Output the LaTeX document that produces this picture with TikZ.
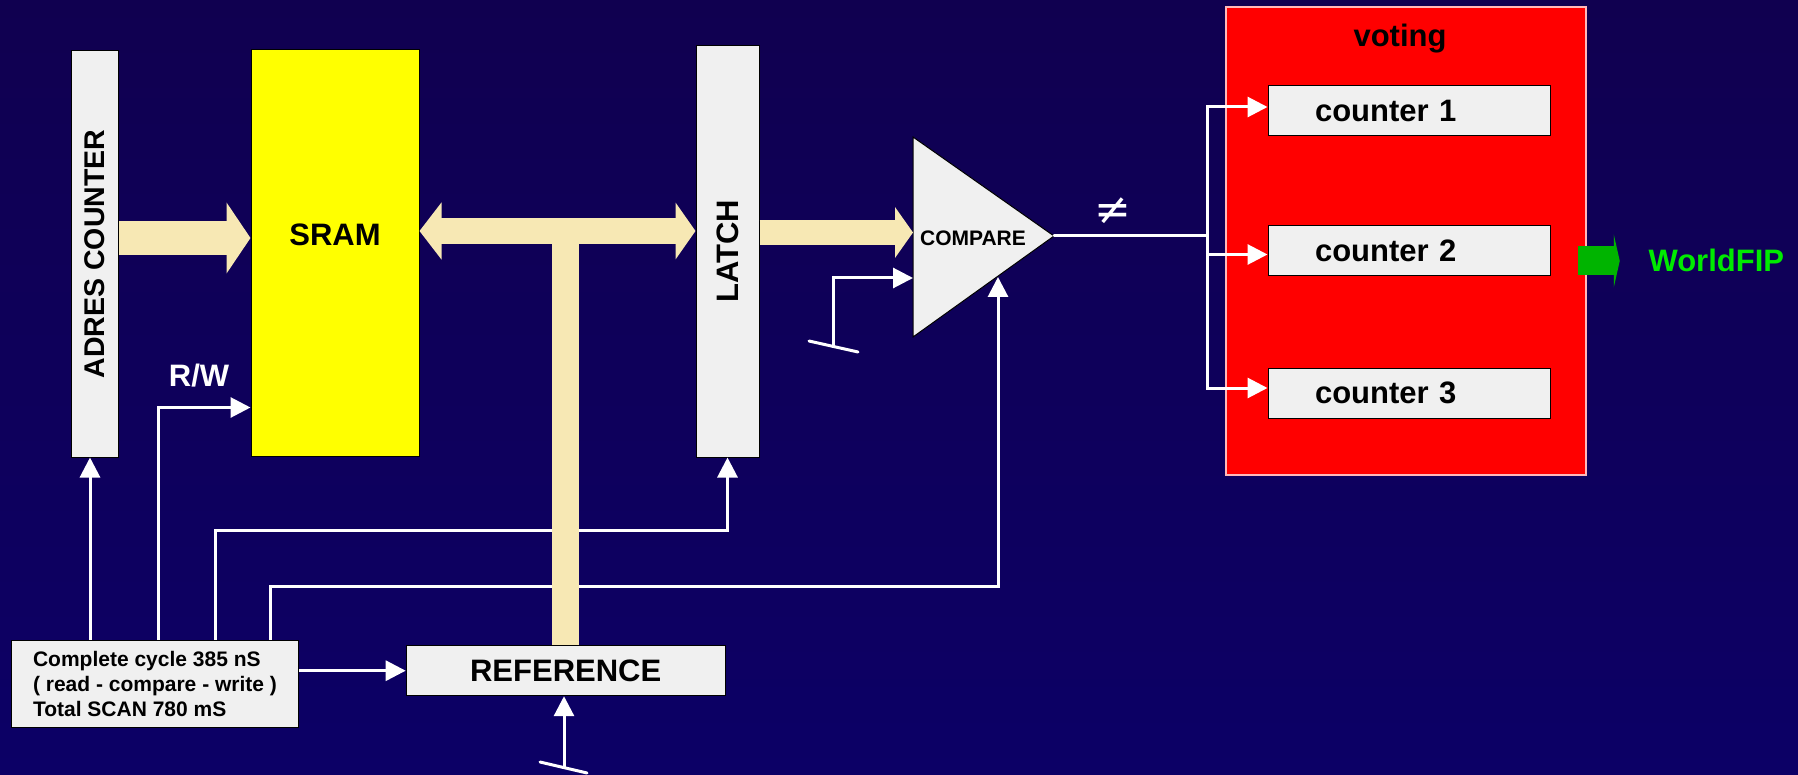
\documentclass[tikz,border=0pt]{standalone}
\usepackage{fontspec}
\setmainfont{Liberation Sans}
\newfontfamily\symfont{DejaVu Sans}
\usepackage{graphicx}
\usetikzlibrary{arrows.meta, positioning}

\definecolor{bgtop}{RGB}{16,0,80}
\definecolor{bgbot}{RGB}{12,0,102}
\definecolor{boxgray}{RGB}{240,240,240}
\definecolor{busbeige}{RGB}{247,232,180}
\definecolor{ramyellow}{RGB}{255,255,0}
\definecolor{votered}{RGB}{255,0,0}
\definecolor{voteedge}{RGB}{255,185,185}
\definecolor{fipgreen}{RGB}{0,180,0}
\definecolor{fiptext}{RGB}{0,235,0}

\newcommand{\bigtxt}{\fontsize{31}{37}\selectfont\bfseries}
\newcommand{\midtxt}{\fontsize{21}{25}\selectfont\bfseries}

\begin{document}
\begin{tikzpicture}[
  x=1pt, y=-1pt,
  box/.style={rectangle, draw=black, line width=1pt, fill=boxgray, inner sep=0pt, font=\bigtxt},
  cntbox/.style={box, minimum height=50pt, inner xsep=47pt, text width=188pt, align=left},
  sig/.style={white, line width=3pt, -{Triangle[length=20pt, width=20pt]}},
  wire/.style={white, line width=3pt, line cap=round},
  bus/.style={draw=busbeige}
]
  \shade[top color=bgtop, bottom color=bgbot] (0,0) rectangle (1798,775);
  \useasboundingbox (0,0) rectangle (1798,775);

  \node[box, minimum width=47pt, minimum height=406pt] (adres) at (95,254) {\rotatebox{90}{\fontsize{28.5}{34}\selectfont ADRES COUNTER}};
  \node[box, fill=ramyellow, minimum width=168pt, minimum height=406pt] (sram) at (335,253) {};
  \node[font=\bigtxt] (sramlbl) at ([yshift=18pt]sram.center) {SRAM};
  \node[box, minimum width=63pt, minimum height=411pt] (latch) at (727.5,251.5) {\rotatebox{90}{LATCH}};
  \node[font=\bigtxt, text=white, anchor=base] (rwlbl) at (199,386) {R/W};

  \node[box, minimum width=287pt, minimum height=87pt, font=\midtxt, align=left] (clock) at (155,683.5) {Complete cycle 385 nS\\( read - compare - write )\\Total SCAN 780 mS};
  \node[box, minimum width=319pt, minimum height=50pt] (ref) at (565.7,670.7) {REFERENCE};

  \node[rectangle, draw=voteedge, line width=1.5pt, fill=votered, minimum width=360pt, minimum height=468pt] (vote) at (1406,241) {};
  \node[font=\bigtxt, anchor=base] (votelbl) at (1400,47) {voting};
  \node[cntbox] (c1) at (1409,111) {counter 1};
  \node[cntbox, below=89pt of c1] (c2) {counter 2};
  \node[cntbox, below=91pt of c2] (c3) {counter 3};
  \node[font=\bigtxt, text=fiptext, anchor=base west] (fiplbl) at (1645,272) {WorldFIP};

  \coordinate (cmptop) at (913,137);
  \coordinate (cmpbot) at (913,337);
  \coordinate (cmpout) at (1054,236);
  \coordinate (cmpin1) at (913,278);
  \coordinate (cmpin2) at (998,277);
  \fill[boxgray, draw=black, line width=1pt] (cmptop) -- (cmpout) -- (cmpbot) -- cycle;
  \node[font=\midtxt] (cmp) at (973,238) {COMPARE};
  \node[text=white, font=\symfont\fontsize{44}{50}\selectfont] (neq) at (1113,211) {≠};

  \coordinate (tadr) at ([xshift=-65pt]clock.north);
  \coordinate (trw) at ([xshift=3pt]clock.north);
  \coordinate (tlat) at ([xshift=60pt]clock.north);
  \coordinate (tcmp) at ([xshift=115pt]clock.north);
  \coordinate (rwin) at ([yshift=49pt]sram.south west);
  \coordinate (refgnd) at (564,767);
  \coordinate (cmpgnd) at (833,346);

  \draw[sig] (tadr) -- (tadr |- adres.south);
  \draw[sig] (trw) |- (rwin);
  \draw[sig] (tlat) -- ++(0,-109) -| (latch.south);
  \draw[sig] (tcmp) -- ++(0,-53) -| (cmpin2);
  \draw[sig] (clock.east |- ref.west) -- (ref.west);
  \draw[sig] (refgnd) -- (refgnd |- ref.south);
  \draw[wire] (540,762) -- (587,773);
  \draw[sig] (cmpgnd) |- (cmpin1);
  \draw[wire] (809,341) -- (858,352);

  \draw[wire] (cmpout) -- (1207,236) coordinate (fork);
  \draw[sig] (fork) |- ([yshift=4pt]c1.west);
  \draw[sig] (fork) |- ([yshift=-3.5pt]c2.west);
  \draw[sig] (fork) |- ([yshift=5pt]c3.west);

  \coordinate (busl) at ([yshift=22pt]sram.east);
  \coordinate (adrout) at ([yshift=16pt]adres.east);
  \coordinate (latout) at ([yshift=19pt]latch.east);
  \draw[bus, line width=27pt] (ref.north) -- (ref.north |- busl);
  \draw[bus, line width=34pt, -{Triangle[length=24pt, width=70pt]}] (adrout) -- (adrout -| sram.west);
  \draw[bus, line width=26pt, {Triangle[length=22pt, width=56pt]}-{Triangle[length=20pt, width=56pt]}] (busl) -- (busl -| latch.west);
  \draw[bus, line width=25pt, -{Triangle[length=18pt, width=50pt]}] (latout) -- (latout -| cmptop);

  \path (vote.east |- fiplbl.west) coordinate (fipbase);
  \draw[fipgreen, line width=29pt, -{Triangle[length=6pt, width=53pt]}] ([xshift=-9pt]fipbase) -- ([xshift=33pt]fipbase);
\end{tikzpicture}
\end{document}
